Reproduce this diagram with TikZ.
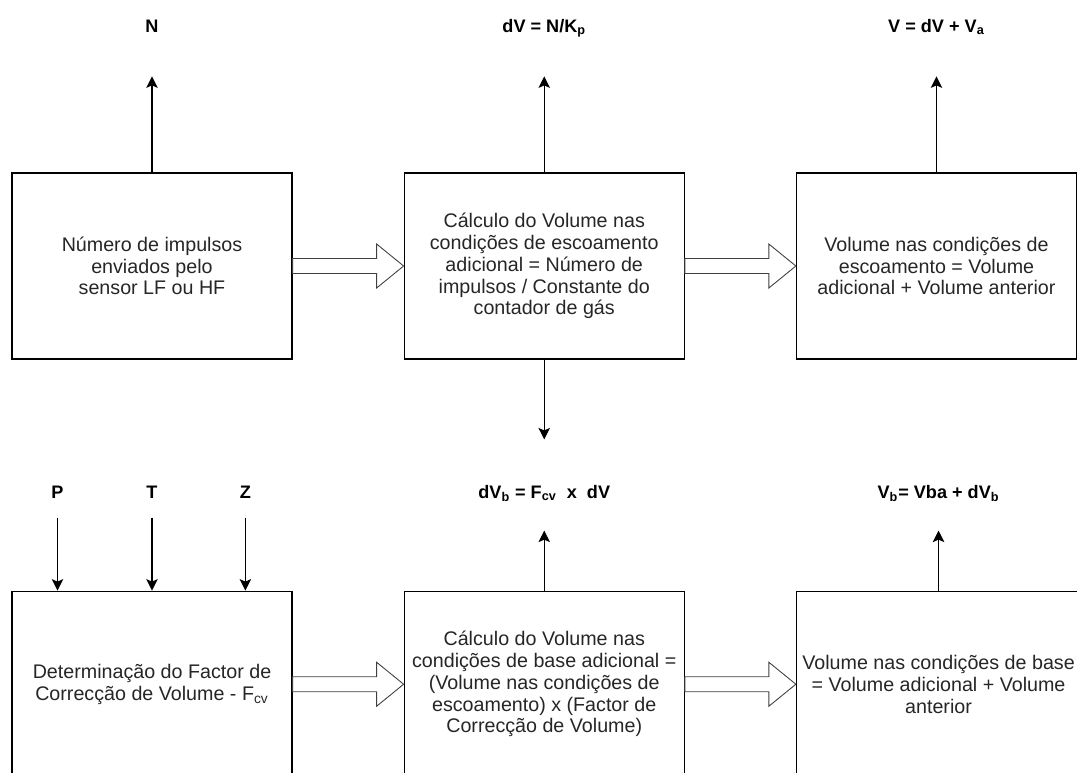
\documentclass[tikz,border=0pt]{standalone}
\usepackage{fontspec}
\setmainfont{Liberation Sans}
\usepackage{tikz}
\usetikzlibrary{arrows.meta, positioning, calc}

\begin{document}
\begin{tikzpicture}[
  node distance=2.22cm,
  box/.style={draw, line width=0.7pt, minimum width=5.6cm, minimum height=3.72cm,
              align=center, text=black!85, font=\fontsize{11.2}{12.4}\selectfont},
  lbl/.style={inner sep=0pt, text height=2.5mm, text depth=1mm,
              font=\fontsize{10.3}{12}\selectfont\bfseries},
  ar/.style={-{Stealth[length=2.3mm, width=2.3mm, inset=0.5mm]}, line width=0.6pt},
  hol/.style={draw=black!75, line width=0.5pt, fill=white}
]
\useasboundingbox (0,0) rectangle (21.54,-15.44);

% flow conditions
\node[box] (imp) at (3.04,-5.32) {Número de impulsos\\enviados pelo\\sensor LF ou HF};
\node[box, right=of imp] (calc) {Cálculo do Volume nas\\condições de escoamento\\adicional = Número de\\impulsos / Constante do\\contador de gás};
\node[box, right=of calc] (vol) {Volume nas condições de\\escoamento = Volume\\adicional + Volume anterior};

% base conditions
\node[box, below=4.62cm of imp] (fcv) {Determinação do Factor de\\Correcção de Volume - F\textsubscript{cv}};
\node[box, right=of fcv] (calcb) {Cálculo do Volume nas\\condições de base adicional =\\(Volume nas condições de\\escoamento) x (Factor de\\Correcção de Volume)};
\node[box, right=of calcb] (volb) {Volume nas condições de base\\= Volume adicional + Volume\\anterior};

% outputs
\node[lbl, above=2.7cm of imp] (n) {N};
\node[lbl, above=2.7cm of calc] (dv) {dV = N/K\textsubscript{p}};
\node[lbl, above=2.7cm of vol] (v) {V = dV + V\textsubscript{a}};
\node[lbl, above=1.74cm of calcb] (dvb) {dV\textsubscript{b} = F\textsubscript{cv}\ \ x\ \ dV};
\node[lbl, above=1.74cm of volb] (vb) {V\textsubscript{b}= Vba + dV\textsubscript{b}};

\draw[ar, shorten >=7.8mm] (imp) -- (n);
\draw[ar, shorten >=7.8mm] (calc) -- (dv);
\draw[ar, shorten >=7.8mm] (vol) -- (v);
\draw[ar, shorten >=9.2mm] (calc) -- (dvb);
\draw[ar, shorten >=5.4mm] (calcb) -- (dvb);
\draw[ar, shorten >=5.4mm] (volb) -- (vb);

% inputs P, T, Z
\foreach \v/\f in {P/0.164, T/0.5, Z/0.832} {
  \coordinate (in\v) at ($(fcv.north west)!\f!(fcv.north east)$);
  \node[lbl, above=1.74cm of in\v] (l\v) {\v};
  \draw[ar, shorten <=2.8mm] (l\v) -- (in\v);
}

% hollow arrows between steps
\foreach \a/\b in {imp/calc, calc/vol, fcv/calcb, calcb/volb}
  \draw[hol] ([yshift=1.5mm]\a.east) -- ([xshift=-5.4mm, yshift=1.5mm]\b.west)
    -- ([xshift=-5.4mm, yshift=4.4mm]\b.west) -- (\b.west)
    -- ([xshift=-5.4mm, yshift=-4.4mm]\b.west) -- ([xshift=-5.4mm, yshift=-1.5mm]\b.west)
    -- ([yshift=-1.5mm]\a.east) -- cycle;
\end{tikzpicture}
\end{document}
